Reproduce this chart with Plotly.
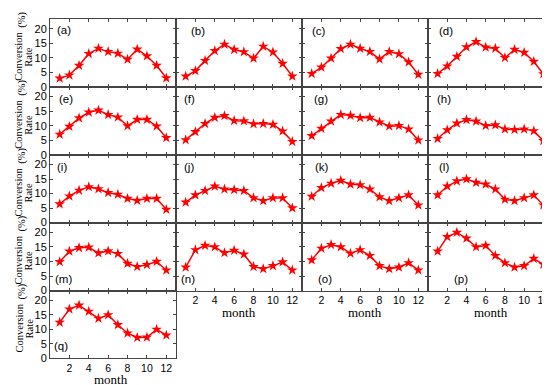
import plotly.graph_objects as go

months = list(range(1, 13))
labels = ['(a)', '(b)', '(c)', '(d)', '(e)', '(f)', '(g)', '(h)', '(i)',
          '(j)', '(k)', '(l)', '(m)', '(n)', '(o)', '(p)', '(q)']
a = [2.9, 4.0, 7.3, 11.4, 13.2, 12.1, 11.5, 9.4, 12.9, 10.6, 7.3, 3.0]
b = [3.6, 5.5, 9.0, 12.4, 14.6, 12.8, 12.0, 9.8, 13.9, 11.9, 8.0, 3.6]
c = [4.5, 6.7, 9.8, 13.1, 14.6, 13.2, 12.1, 9.5, 12.1, 11.3, 8.5, 4.2]
d = [4.5, 7.1, 10.4, 13.7, 15.5, 13.6, 13.2, 10.0, 12.8, 11.8, 8.7, 4.4]
e = [7.0, 9.7, 12.6, 14.6, 15.3, 13.8, 12.9, 9.9, 12.1, 12.1, 9.8, 5.8]
f = [5.1, 7.9, 10.7, 12.8, 13.4, 11.7, 11.6, 10.6, 10.7, 10.4, 8.1, 4.5]
g = [6.5, 9.0, 11.5, 13.8, 13.5, 12.7, 12.8, 11.2, 9.8, 10.0, 8.8, 5.0]
h = [5.5, 8.5, 10.8, 12.0, 11.5, 10.0, 10.2, 8.8, 8.6, 8.8, 8.2, 4.8]
i = [6.4, 9.1, 11.1, 12.3, 11.6, 10.3, 9.7, 8.3, 7.6, 8.3, 8.3, 4.5]
j = [7.0, 9.5, 11.0, 12.5, 11.5, 11.3, 11.0, 8.5, 7.5, 8.5, 8.5, 5.0]
k = [9.0, 12.0, 13.5, 14.5, 13.2, 13.0, 11.5, 8.8, 7.5, 8.5, 9.5, 6.0]
l = [9.5, 12.5, 14.3, 15.0, 13.8, 13.2, 11.5, 8.0, 7.5, 8.5, 9.5, 6.0]
m = [9.9, 13.5, 14.7, 14.9, 12.9, 13.6, 12.7, 9.3, 8.2, 8.9, 10.0, 7.0]
n = [8.0, 14.0, 15.5, 15.0, 13.0, 13.8, 12.5, 8.2, 7.5, 8.5, 9.8, 7.0]
o = [10.5, 14.5, 15.8, 15.0, 12.8, 14.0, 12.0, 8.5, 7.5, 8.0, 9.5, 7.0]
p = [13.5, 18.5, 20.0, 18.0, 15.0, 15.5, 12.0, 9.5, 8.0, 8.5, 11.0, 9.0]
q = [12.4, 17.0, 18.3, 16.2, 13.8, 15.0, 11.6, 8.7, 7.2, 7.3, 10.0, 8.0]
series = [a, b, c, d, e, f, g, h, i, j, k, l, m, n, o, p, q]

x_ticks = [2, 4, 6, 8, 10, 12]
y_ticks = [0, 5, 10, 15, 20]

W, H = 550, 385
col_px = [(42, 168), (168, 294), (294, 420), (420, 545)]
row_px = [(11, 80), (80, 149), (149, 218), (218, 287), (287, 356)]
# label centre positions (pixels)
label_px = [(56, 22), (190, 23), (311, 23), (438, 23),
            (58, 92), (181, 92), (313, 92), (436, 92),
            (54, 162), (181, 162), (314, 162), (436, 162),
            (55, 275), (180, 275), (317, 275), (453, 275),
            (53, 343)]

def px_x(v):
    return v / W

def px_y(v):
    return 1 - v / H

fig = go.Figure()
layout = dict(width=W, height=H, margin=dict(l=0, r=0, t=0, b=0),
              paper_bgcolor='white', plot_bgcolor='white', showlegend=False)
annotations = []

for idx, ys in enumerate(series):
    r, cc = divmod(idx, 4)
    k_ = '' if idx == 0 else str(idx + 1)
    fig.add_trace(go.Scatter(
        x=months, y=ys, mode='lines+markers',
        line=dict(color='red', width=1.5),
        marker=dict(symbol='star', size=8, color='red', line=dict(width=0)),
        xaxis='x' + k_, yaxis='y' + k_, cliponaxis=False))
    bottom_row = (r == 4) or (r == 3 and cc > 0)
    x0, x1 = col_px[cc]
    t0, t1 = row_px[r]
    layout['xaxis' + k_] = dict(
        domain=[px_x(x0), px_x(x1)], range=[0, 13], anchor='y' + k_,
        tickvals=x_ticks, showticklabels=bottom_row, ticks='inside',
        ticklen=3, tickcolor='#444', showline=True, linecolor='#444',
        linewidth=1, mirror='ticks', showgrid=False, zeroline=False,
        tickfont=dict(family='Liberation Sans', size=10.5, color='black'))
    layout['yaxis' + k_] = dict(
        domain=[px_y(t1), px_y(t0)], range=[0, 23.4], anchor='x' + k_,
        tickvals=y_ticks, showticklabels=(cc == 0), ticks='inside',
        ticklen=3, tickcolor='#444', showline=True, linecolor='#444',
        linewidth=1, mirror='ticks', showgrid=False, zeroline=False,
        tickfont=dict(family='Liberation Sans', size=11, color='black'))
    lx, ly = label_px[idx]
    annotations.append(dict(x=px_x(lx), y=px_y(ly), xref='paper', yref='paper',
                            text=labels[idx], showarrow=False,
                            xanchor='center', yanchor='middle',
                            font=dict(family='Liberation Sans', size=11.5, color='black')))

# y-axis titles for each row
for (t0, t1) in row_px:
    cy = (t0 + t1) / 2 + 4
    annotations.append(dict(x=px_x(11), y=px_y(cy), xref='paper', yref='paper',
                            text='Conversion', textangle=-90, showarrow=False,
                            xanchor='center', yanchor='middle',
                            font=dict(family='Liberation Serif', size=10.5, color='black')))
    annotations.append(dict(x=px_x(21), y=px_y(cy), xref='paper', yref='paper',
                            text='Rate', textangle=-90, showarrow=False,
                            xanchor='center', yanchor='middle',
                            font=dict(family='Liberation Serif', size=10.5, color='black')))
    annotations.append(dict(x=px_x(14), y=px_y(t0 + 1), xref='paper', yref='paper',
                            text='(%)', textangle=-90, showarrow=False,
                            xanchor='center', yanchor='middle',
                            font=dict(family='Liberation Serif', size=10.5, color='black')))

# x-axis titles
month_px = [(103, 377), (231, 309), (357, 309), (483, 309)]
for (mx, my) in month_px:
    annotations.append(dict(x=px_x(mx), y=px_y(my), xref='paper', yref='paper',
                            text='month', showarrow=False,
                            xanchor='center', yanchor='middle',
                            font=dict(family='Liberation Serif', size=13, color='black')))

layout['annotations'] = annotations
fig.update_layout(**layout)
fig.write_html('out.html')
